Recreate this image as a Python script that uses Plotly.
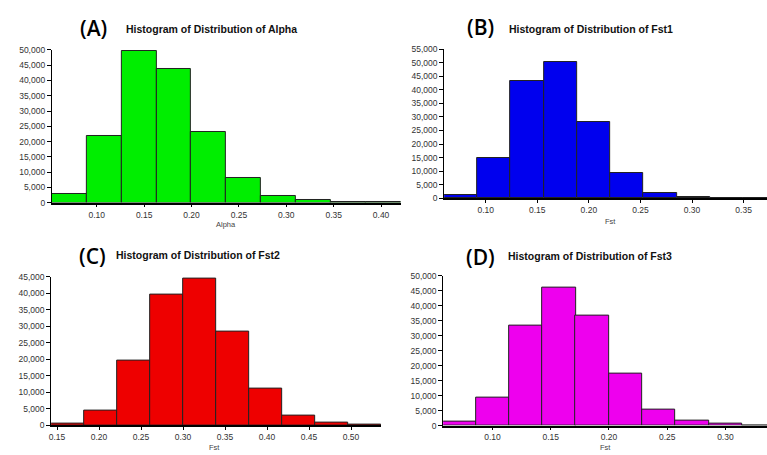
import plotly.graph_objects as go

W, H = 767, 455

# ---- data (bin left edges, bin widths, counts) ----
alpha_edges = [0.0526, 0.0894, 0.1262, 0.1630, 0.1998, 0.2366, 0.2734, 0.3102, 0.3470, 0.3838]
alpha_width = 0.0368
alpha_counts = [2780, 21700, 49800, 43900, 23000, 7900, 2240, 850, 150, 40]

fst1_edges = [0.0597, 0.0919, 0.1241, 0.1563, 0.1885, 0.2207, 0.2529, 0.2851, 0.3173, 0.3495]
fst1_width = 0.0322
fst1_counts = [1200, 14800, 43400, 50100, 28000, 9500, 2040, 360, 60, 10]

fst2_edges = [0.1428, 0.1821, 0.2214, 0.2607, 0.3000, 0.3393, 0.3786, 0.4179, 0.4572, 0.4965]
fst2_width = 0.0393
fst2_counts = [400, 4540, 19540, 39470, 44300, 28420, 11150, 2960, 790, 60]

fst3_edges = [0.0571, 0.0857, 0.1143, 0.1429, 0.1714, 0.2000, 0.2286, 0.2571, 0.2857, 0.3143]
fst3_width = 0.0286
fst3_counts = [1200, 9460, 33370, 45980, 36630, 17170, 5430, 1630, 650, 60]

letters = ["(A)", "(B)", "(C)", "(D)"]
titles = ["Histogram of Distribution of Alpha", "Histogram of Distribution of Fst1",
          "Histogram of Distribution of Fst2", "Histogram of Distribution of Fst3"]
xlabels = ["Alpha", "Fst", "Fst", "Fst"]

# ---- layout (pixel boxes) ----
panels = [
    dict(edges=alpha_edges, w=alpha_width, counts=alpha_counts, color="#00ee00",
         px=(50, 400), py=(202, 46), xr=(0.0526, 0.4210), ymax=50000,
         letter=(92, 24), title=(122, 25), xlab=(225, 224)),
    dict(edges=fst1_edges, w=fst1_width, counts=fst1_counts, color="#0000ee",
         px=(443.3, 767), py=(197.7, 45), xr=(0.0597, 0.3727), ymax=55000,
         letter=(479.5, 22.5), title=(506, 25), xlab=(610, 221)),
    dict(edges=fst2_edges, w=fst2_width, counts=fst2_counts, color="#ee0000",
         px=(49.3, 380), py=(429.7, 277.7), xr=(0.1430, 0.5357), ymax=45000,
         letter=(91, 257), title=(112, 256), xlab=(213, 452)),
    dict(edges=fst3_edges, w=fst3_width, counts=fst3_counts, color="#ee00ee",
         px=(442.3, 767), py=(430, 276.7), xr=(0.0577, 0.3357), ymax=50000,
         letter=(480, 257.5), title=(505, 257), xlab=(605, 452)),
]

fig = go.Figure()
annotations = []
tickfont = dict(family="Liberation Sans", size=8.5, color="#333333")

for i, p in enumerate(panels):
    k = "" if i == 0 else str(i + 1)
    fig.add_trace(go.Bar(
        x=p["edges"], y=p["counts"], width=p["w"], offset=0,
        marker=dict(color=p["color"], line=dict(color="#222222", width=1)),
        xaxis="x" + k, yaxis="y" + k, showlegend=False, hoverinfo="x+y",
    ))
    xd = [p["px"][0] / W, p["px"][1] / W]
    yd = [1 - p["py"][0] / H, 1 - p["py"][1] / H]
    fig.layout["xaxis" + k] = dict(
        domain=xd, range=list(p["xr"]), anchor="y" + k,
        showgrid=False, zeroline=False, showline=True, linecolor="black", linewidth=1.5,
        ticks="outside", ticklen=3, tickcolor="black", tickwidth=1,
        tick0=0, dtick=0.05, tickformat=".2f", tickfont=tickfont,
    )
    fig.layout["yaxis" + k] = dict(
        domain=yd, range=[0, p["ymax"]], anchor="x" + k,
        showgrid=False, zeroline=False, showline=True, linecolor="black", linewidth=1,
        ticks="outside", ticklen=4, tickcolor="black", tickwidth=1,
        tick0=0, dtick=5000, tickformat=",d", tickfont=tickfont,
    )
    annotations.append(dict(
        text=letters[i], x=p["letter"][0] / W, y=1 - p["letter"][1] / H,
        xref="paper", yref="paper", xanchor="center", yanchor="middle", showarrow=False,
        font=dict(family="Open Sans", size=21, color="black", weight=600),
    ))
    annotations.append(dict(
        text="<b>" + titles[i] + "</b>", x=p["title"][0] / W, y=1 - p["title"][1] / H,
        xref="paper", yref="paper", xanchor="left", yanchor="middle", showarrow=False,
        font=dict(family="Liberation Sans", size=10.5, color="#111111"),
    ))
    annotations.append(dict(
        text=xlabels[i], x=p["xlab"][0] / W, y=1 - p["xlab"][1] / H,
        xref="paper", yref="paper", xanchor="center", yanchor="middle", showarrow=False,
        font=dict(family="Liberation Sans", size=7.5, color="#444444"),
    ))

fig.update_layout(
    width=W, height=H, margin=dict(l=0, r=0, t=0, b=0),
    paper_bgcolor="white", plot_bgcolor="white",
    annotations=annotations, bargap=0,
)

fig.write_html("out.html")
